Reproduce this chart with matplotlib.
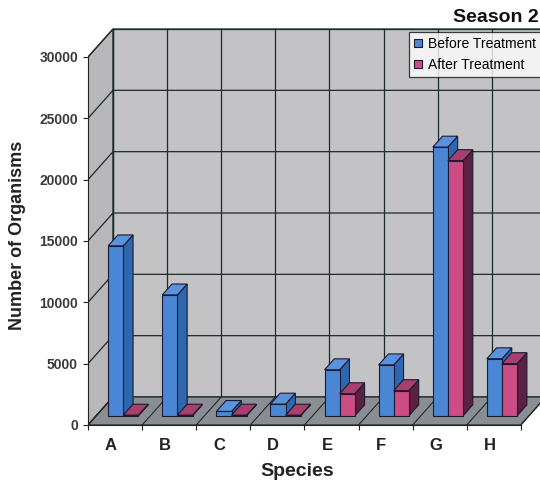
import numpy as np
import matplotlib
matplotlib.use('Agg')
import matplotlib.pyplot as plt
from matplotlib.patches import Polygon, Patch

plt.rcParams['font.family'] = ['Liberation Sans', 'DejaVu Sans']

# values
species = ['A', 'B', 'C', 'D', 'E', 'F', 'G', 'H']
before = [13850, 9850, 350, 950, 3750, 4150, 21900, 4650]
after = [50, 50, 50, 50, 1800, 2050, 20800, 4250]
value_ticks = [0, 5000, 10000, 15000, 20000, 25000, 30000]
series_names = ['Before Treatment', 'After Treatment']

W, H = 540, 483
PX_CAT = 54.1                    # pixels per category
PX_VAL = (425 - 57) / 30000.0    # pixels per organism
DX = 25 / PX_CAT                 # depth offset in category units
DY = 28 / PX_VAL                 # depth offset in value units
D0, D1 = 0.33, 0.72              # bar depth, front and back
BAR_W = 0.28

blue = dict(front='#4a86d4', side='#2e67ad', top='#5b92de')
pink = dict(front='#cc4d84', side='#5c2040', top='#a8406c')
edge = '#1a1a33'
grid_c = '#1c2a2a'

fig = plt.figure(figsize=(W / 100, H / 100), dpi=100)
ax = fig.add_axes([88 / W, (H - 425) / H, (W - 88) / W, 425 / H])
ax.set_xlim(-0.5, -0.5 + (W - 88) / PX_CAT)
ax.set_ylim(0, 425 / PX_VAL)
ax.patch.set_alpha(0)

n = len(species)
vmax = value_ticks[-1]
x_left, x_right = -0.5, n - 0.5

# walls and floor
left_wall = [(x_left, 0), (x_left, vmax), (x_left + DX, vmax + DY), (x_left + DX, DY)]
back_wall = [(x_left + DX, DY), (x_right + DX, DY), (x_right + DX, vmax + DY), (x_left + DX, vmax + DY)]
floor = [(x_left, 0), (x_right, 0), (x_right + DX, DY), (x_left + DX, DY)]
ax.add_patch(Polygon(left_wall, closed=True, fc='#b8b8ba', ec=grid_c, lw=0.9, zorder=1))
ax.add_patch(Polygon(back_wall, closed=True, fc='#c3c3c5', ec=grid_c, lw=0.9, zorder=1))
ax.add_patch(Polygon(floor, closed=True, fc='#8a8e94', ec=grid_c, lw=0.9, zorder=2))

for v in value_ticks:
    ax.plot([x_left, x_left + DX, x_right + DX], [v, v + DY, v + DY],
            color=grid_c, lw=0.9, zorder=1.5)
for b in np.arange(x_left, x_right + 1):
    ax.plot([b + DX, b + DX], [DY, vmax + DY], color=grid_c, lw=0.9, zorder=1.5)
    ax.plot([b, b + DX], [0, DY], color=grid_c, lw=0.8, zorder=2.5)


def bar3d(x0, h, col):
    fx, fy = D0 * DX, D0 * DY
    bx, by = D1 * DX, D1 * DY
    x1 = x0 + BAR_W
    side = [(x1 + fx, fy), (x1 + bx, by), (x1 + bx, by + h), (x1 + fx, fy + h)]
    top = [(x0 + fx, fy + h), (x1 + fx, fy + h), (x1 + bx, by + h), (x0 + bx, by + h)]
    front = [(x0 + fx, fy), (x1 + fx, fy), (x1 + fx, fy + h), (x0 + fx, fy + h)]
    for pts, c in ((side, col['side']), (top, col['top']), (front, col['front'])):
        ax.add_patch(Polygon(pts, closed=True, fc=c, ec=edge, lw=0.8, zorder=3))


for i in range(n):
    bar3d(i - BAR_W, before[i], blue)
    bar3d(i, after[i], pink)

# axes
for s in ('top', 'right'):
    ax.spines[s].set_visible(False)
ax.spines['left'].set_bounds(0, vmax)
ax.spines['bottom'].set_bounds(x_left, x_right)
ax.spines['left'].set_color('#222222')
ax.spines['bottom'].set_color('#222222')
ax.spines['left'].set_zorder(4)
ax.spines['bottom'].set_zorder(4)

ax.set_yticks(value_ticks)
ax.set_yticklabels([str(v) for v in value_ticks])
ax.tick_params(axis='y', direction='out', length=3.6, pad=3.6, labelsize=10,
               labelcolor='#3a3a3a', color='#222222')
for t in ax.get_yticklabels():
    t.set_fontweight('bold')

# category labels sit a little left of the bar pairs, as in the original
ax.set_xticks(np.arange(x_left, x_right + 1))
ax.set_xticklabels([])
ax.set_xticks(np.arange(n) - 0.08, minor=True)
ax.set_xticklabels(species, minor=True, fontsize=12, fontweight='bold', color='#222222')
ax.tick_params(axis='x', which='major', direction='out', length=3.6, color='#222222')
ax.tick_params(axis='x', which='minor', length=0, pad=9.5)

fig.text(18 / W, 1 - 235 / H, 'Number of Organisms', rotation=90, fontsize=13,
         fontweight='bold', ha='center', va='center', color='#222222')
fig.text(297 / W, 1 - 472 / H, 'Species', fontsize=14, fontweight='bold',
         ha='center', va='center', color='#222222')
fig.text(453 / W, 1 - 17 / H, 'Season 2', fontsize=14, fontweight='bold',
         ha='left', va='center', color='#111111')

handles = [Patch(fc=blue['front'], ec=edge, lw=0.8),
           Patch(fc=pink['front'], ec=edge, lw=0.8)]
leg = fig.legend(handles, series_names, loc='upper left',
                 bbox_to_anchor=(409 / W, 1 - 32 / H), fontsize=10,
                 frameon=True, fancybox=False, edgecolor='#111111',
                 handlelength=0.6, handleheight=0.6, handletextpad=0.4,
                 borderpad=0.35, labelspacing=0.5, borderaxespad=0)
leg.get_frame().set_linewidth(0.9)

fig.savefig('out.png', dpi=100, facecolor='white')
